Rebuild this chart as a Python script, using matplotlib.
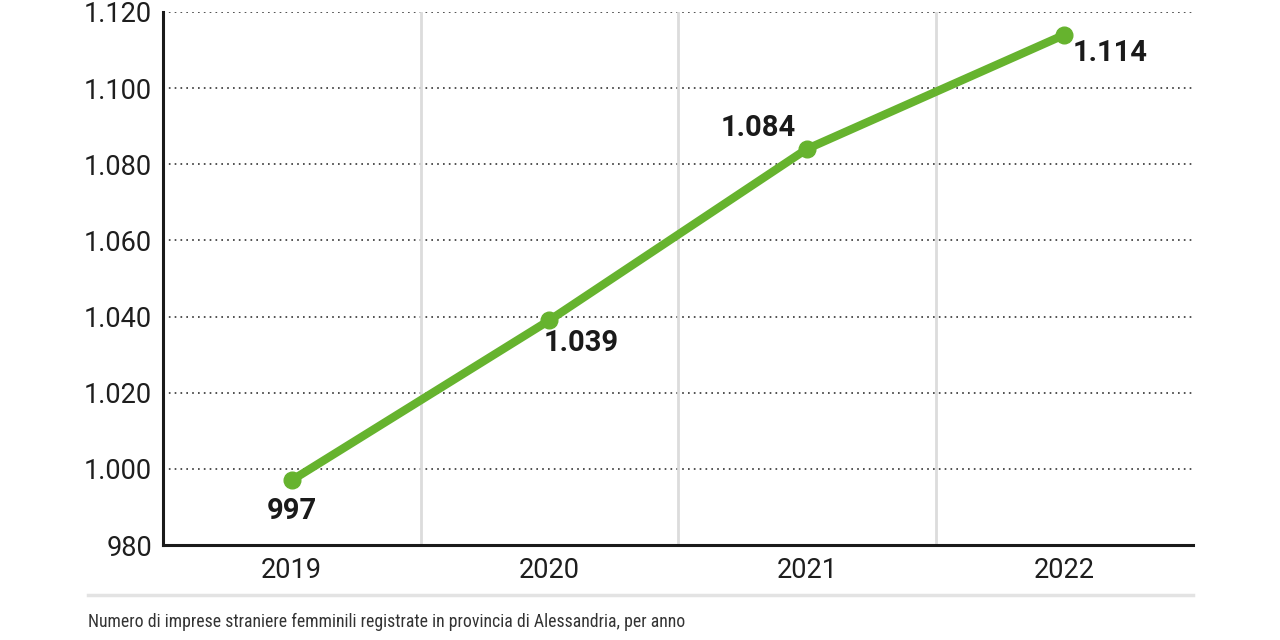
import matplotlib
matplotlib.use("Agg")
import matplotlib.pyplot as plt
from matplotlib import font_manager
from matplotlib.lines import Line2D

years = ["2019", "2020", "2021", "2022"]
values = [997, 1039, 1084, 1114]
labels = ["997", "1.039", "1.084", "1.114"]
yticks = [980, 1000, 1020, 1040, 1060, 1080, 1100, 1120]
caption = "Numero di imprese straniere femminili registrate in provincia di Alessandria, per anno"

green = "#66b32e"

names = set(f.name for f in font_manager.fontManager.ttflist)
base = "Roboto" if "Roboto" in names else "DejaVu Sans"
narrow = None
for n in ["Liberation Sans Narrow", "Roboto Condensed", "DejaVu Sans Condensed"]:
    if n in names:
        narrow = n
        break

def fmt(v):
    s = str(int(v))
    if len(s) > 3:
        s = s[:-3] + "." + s[-3:]
    return s

fig = plt.figure(figsize=(12.8, 6.4), dpi=100)
ax = fig.add_axes([163/1280, 1-545/640, (1193-163)/1280, (545-12)/640])

x = list(range(len(years)))
for y in yticks[1:]:
    ax.axhline(y, color="#333333", lw=1.2, ls=(0, (1, 2.5)), zorder=1)
for xv in [0.5, 1.5, 2.5]:
    ax.axvline(xv, color="#dcdcdc", lw=2, zorder=1)

ax.plot(x, values, color=green, lw=6, marker="o", markersize=12, zorder=3,
        solid_capstyle="round")

# label placement (offsets in points)
offs = [(0, -12, "center", "top"), (-4, -6, "left", "top"),
        (-8, 5, "right", "bottom"), (6, -3, "left", "top")]
for xi, v, lab, (dx, dy, ha, va) in zip(x, values, labels, offs):
    ax.annotate(lab, (xi, v), xytext=(dx, dy), textcoords="offset points",
                ha=ha, va=va, fontsize=21, fontweight="bold", color="#1a1a1a",
                family=base, zorder=4)

ax.set_xlim(-0.5, 3.5)
ax.set_ylim(980, 1120)
ax.set_xticks(x)
ax.set_xticklabels(years)
ax.set_yticks(yticks)
ax.set_yticklabels([fmt(v) for v in yticks])
ax.tick_params(length=0, labelsize=19.5, colors="#1e1e1e", pad=8)
for lab in ax.get_xticklabels() + ax.get_yticklabels():
    lab.set_family(base)
ax.tick_params(axis="x", pad=9)

for s in ["top", "right"]:
    ax.spines[s].set_visible(False)
for s in ["left", "bottom"]:
    ax.spines[s].set_color("#1a1a1a")
    ax.spines[s].set_linewidth(2.2)

fig.add_artist(Line2D([88/1280, 1193/1280], [1-595/640, 1-595/640],
                      color="#e3e3e3", lw=2.5))
if narrow:
    fig.text(88/1280, 1-622/640, caption, ha="left", va="center", fontsize=12.8,
             family=narrow, color="#333333")
else:
    fig.text(88/1280, 1-622/640, caption, ha="left", va="center", fontsize=12,
             family="DejaVu Sans", stretch="condensed", color="#333333")

fig.savefig("out.png", dpi=100)
